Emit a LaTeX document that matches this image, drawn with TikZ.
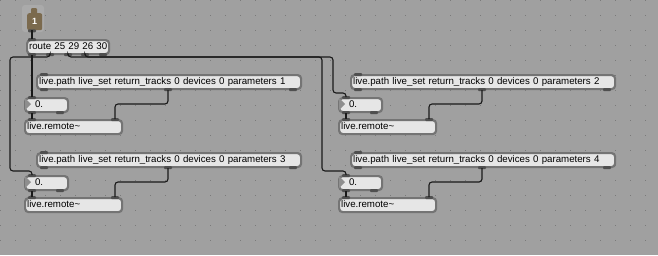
\documentclass[tikz,border=0pt]{standalone}
\usepackage{fontspec}
\setmainfont{Liberation Sans}
\usepackage{tikz}
\definecolor{patchbg}{HTML}{A0A0A0}
\definecolor{griddot}{HTML}{7A7A7A}
\definecolor{boxfill}{HTML}{E6E6E6}
\definecolor{boxedge}{HTML}{747474}
\definecolor{portdark}{HTML}{4F4F4F}
\definecolor{inletbrown}{HTML}{7B6A4E}
\definecolor{inletframe}{HTML}{AAAAAA}
\definecolor{numtri}{HTML}{8E8E8E}

\begin{document}
\begin{tikzpicture}[
    x=1pt, y=-1pt,
    wire/.style={line width=1.1pt, black!90, rounded corners=3pt},
    maxobj/.style={draw=boxedge, fill=boxfill, line width=2.2pt,
        rounded corners=3.5pt, anchor=north west,
        inner xsep=2pt, inner ysep=0pt, minimum height=14pt,
        text height=7pt, text depth=2pt, align=left,
        font=\fontsize{9.7}{11}\selectfont},
    numobj/.style={maxobj, inner xsep=10pt, text width=23pt},
    port/.style={fill=portdark, rounded corners=1pt}
]

% Fond del patch
\fill[patchbg] (0,0) rectangle (658,255);
\useasboundingbox (0,0) rectangle (658,255);
\foreach \gx in {0,15,...,645}
    \foreach \gy in {0,15,...,240}
        \fill[griddot] (\gx,\gy) rectangle ++(1.2,1.2);

% Inlet
\fill[inletframe, rounded corners=3pt] (22,5) rectangle (44,32);
\fill[inletbrown, rounded corners=1pt] (31,8) rectangle (37,14);
\node[
    fill=inletbrown,
    rounded corners=2pt,
    anchor=north west,
    minimum width=15pt,
    minimum height=17pt,
    inner sep=0pt,
    text=white,
    font=\fontsize{9}{9}\selectfont\bfseries
] (inlet) at (27,13) {1};

% Route
\node[maxobj, text width=78pt] (route) at (26,39) {\mbox{route 25 29 26 30}};

% Primera fila
\node[maxobj, text width=260pt] (path1) at (36,74)
    {live.path live\_set return\_tracks 0 devices 0 parameters 1};
\node[numobj] (num1) at (24,97) {0.};
\node[maxobj, text width=93pt] (remote1) at (24,119) {live.remote\textasciitilde};

\node[maxobj, text width=260pt] (path2) at (350,74)
    {live.path live\_set return\_tracks 0 devices 0 parameters 2};
\node[numobj] (num2) at (338,97) {0.};
\node[maxobj, text width=93pt] (remote2) at (338,119) {live.remote\textasciitilde};

% Segona fila
\node[maxobj, text width=260pt] (path3) at (36,152)
    {live.path live\_set return\_tracks 0 devices 0 parameters 3};
\node[numobj] (num3) at (24,175) {0.};
\node[maxobj, text width=93pt] (remote3) at (24,197) {live.remote\textasciitilde};

\node[maxobj, text width=260pt] (path4) at (350,152)
    {live.path live\_set return\_tracks 0 devices 0 parameters 4};
\node[numobj] (num4) at (338,175) {0.};
\node[maxobj, text width=93pt] (remote4) at (338,197) {live.remote\textasciitilde};

% Triangles dels number box
\foreach \i in {1,...,4}
    \fill[numtri] ([xshift=1pt,yshift=-1pt]num\i.north west)
        -- ++(0,12) -- ++(6,-6) -- cycle;

% Ports
\fill[port] ([xshift=1pt,yshift=1pt]inlet.south west) rectangle ++(8,3);
\fill[port] ([xshift=2pt,yshift=1pt]route.north west) rectangle ++(8,3);
\foreach \dx in {2,20,38,55,73}
    \fill[port] ([xshift=\dx pt,yshift=-1pt]route.south west) rectangle ++(8,-3);
\foreach \i in {1,...,4} {
    \foreach \n/\dx in {path/4, num/4, remote/4, remote/87}
        \fill[port] ([xshift=\dx pt,yshift=1pt]\n\i.north west) rectangle ++(8,3);
    \foreach \n/\dx in {path/4, path/128, path/253, num/4, num/32}
        \fill[port] ([xshift=\dx pt,yshift=-1pt]\n\i.south west) rectangle ++(8,-3);
}

% Cables
\draw[wire] ([xshift=5pt]inlet.south west) -- ([xshift=6pt]route.north west);
\draw[wire] ([xshift=6pt]route.south west) -- ([xshift=8pt]num1.north west);
\draw[wire] ([xshift=24pt]route.south west) |- (10,57)
    |- ([xshift=8pt,yshift=4pt]num3.north west) -- ([xshift=8pt]num3.north west);
\draw[wire] ([xshift=42pt]route.south west) |- (333,57)
    |- ([xshift=8pt,yshift=4pt]num2.north west) -- ([xshift=8pt]num2.north west);
\draw[wire] ([xshift=59pt]route.south west) |- (322,57)
    |- ([xshift=8pt,yshift=4pt]num4.north west) -- ([xshift=8pt]num4.north west);

\foreach \i in {1,...,4} {
    \draw[wire] ([xshift=132pt]path\i.south west)
        |- ([xshift=91pt,yshift=15pt]remote\i.north west)
        -- ([xshift=91pt]remote\i.north west);
    \draw[wire] ([xshift=8pt]num\i.south west) -- ([xshift=8pt]remote\i.north west);
}

\end{tikzpicture}
\end{document}
